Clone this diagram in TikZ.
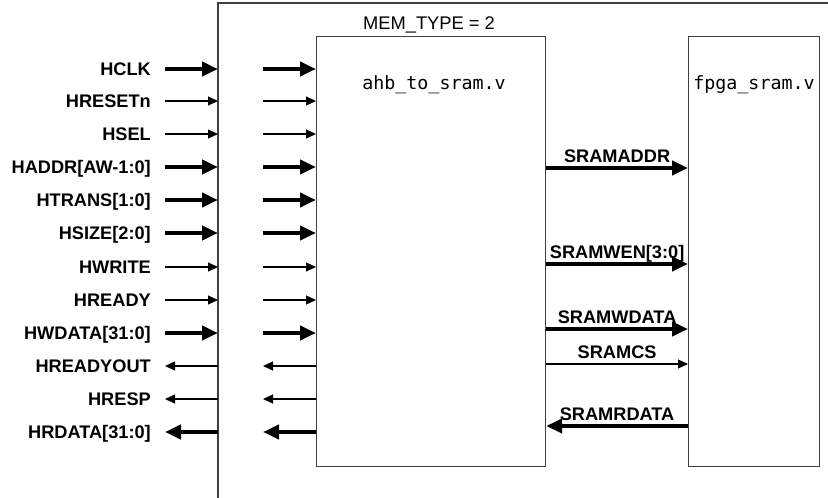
\documentclass[tikz,border=0pt]{standalone}
\usepackage{fontspec}
\setmainfont{Liberation Sans}
\setmonofont{DejaVu Sans Mono}
\usetikzlibrary{arrows.meta}

\tikzset{
  sig/.style={font=\bfseries\fontsize{18.2}{21}\selectfont, inner sep=1pt},
  fat/.style={line width=4pt, -{Triangle[length=16pt,width=14pt]}},
  slim/.style={line width=1.2pt, -{Triangle[length=10pt,width=9pt]}},
  fatout/.style={line width=4pt, {Triangle[length=16pt,width=14pt]}-},
  slimout/.style={line width=1.2pt, {Triangle[length=10pt,width=9pt]}-},
  blk/.style={draw=black!75, line width=1.2pt},
}

\begin{document}
\begin{tikzpicture}[x=1pt, y=-1pt]
    \useasboundingbox (0,0) rectangle (828,498);
    % wrapper
    \draw[black!75, line width=1.2pt] (828,3) -- (218,3) -- (218,498);
    \node[font=\fontsize{18.3}{21}\selectfont, anchor=base] (memtype) at (429,29) {MEM\_TYPE = 2};
    % the two modules
    \node[blk, anchor=north west, minimum width=229pt, minimum height=430pt] (ahb) at (316,36) {};
    \node[blk, anchor=north west, minimum width=131pt, minimum height=430pt] (fpga) at (688,36) {};
    \node[font=\ttfamily\fontsize{18.3}{21}\selectfont] (ahbname) at (434,85) {ahb\_to\_sram.v};
    \node[font=\ttfamily\fontsize{18.3}{21}\selectfont] (fpganame) at (754,85) {fpga\_sram.v};
    % AHB side
    \foreach \txt/\y/\st [count=\i] in {HCLK/69/fat, HRESETn/101/slim, HSEL/134/slim,
        HADDR[AW-1:0]/167/fat, HTRANS[1:0]/200/fat, HSIZE[2:0]/233/fat, HWRITE/267/slim,
        HREADY/300/slim, HWDATA[31:0]/333/fat, HREADYOUT/366/slimout, HRESP/399/slimout,
        HRDATA[31:0]/432/fatout} {
        \node[sig, anchor=base east] (s\i) at (152,\y+6) {\txt};
        \coordinate (p\i) at (165,\y);
        \coordinate (q\i) at (218,\y);
        \coordinate (r\i) at (263,\y);
        \draw[\st] (p\i) -- (q\i);
        \draw[\st] (r\i) -- (ahb.west |- r\i);
    }
    % SRAM side
    \foreach \txt/\y/\st [count=\i] in {SRAMADDR/168/fat, SRAMWEN[3:0]/264/fat,
        SRAMWDATA/329/fat, SRAMCS/364/slim, SRAMRDATA/426/fatout} {
        \coordinate (m\i) at (600,\y);
        \draw[\st] (ahb.east |- m\i) -- (fpga.west |- m\i)
            node[sig, midway, anchor=base, yshift=6pt] (t\i) {\txt};
    }
\end{tikzpicture}
\end{document}
